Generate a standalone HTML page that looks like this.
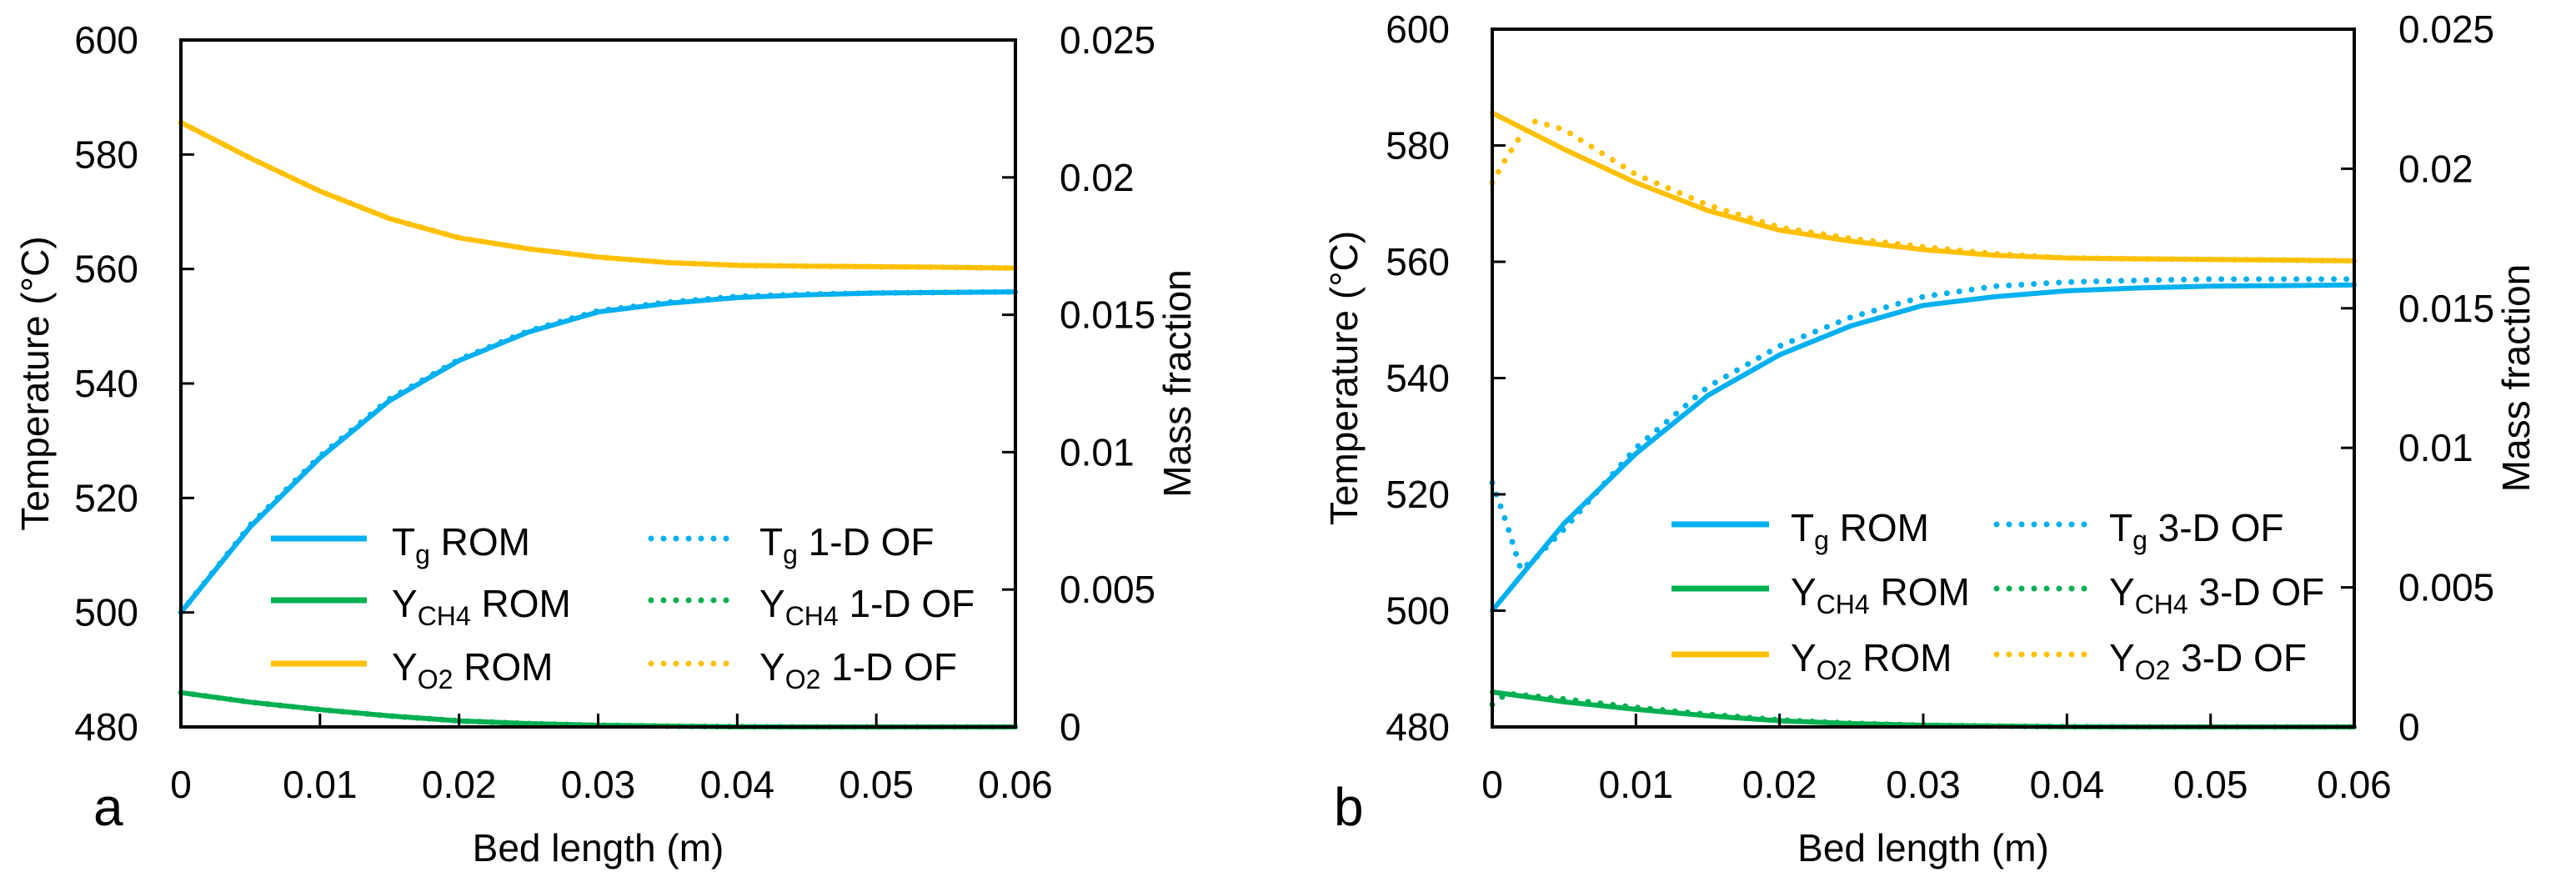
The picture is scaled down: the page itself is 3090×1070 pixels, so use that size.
<!DOCTYPE html>
<html><head><meta charset="utf-8"><style>
html,body{margin:0;padding:0;background:#fff;}
svg{display:block;font-family:"Liberation Sans",sans-serif;}
</style></head><body>
<svg id="fig" width="3090" height="1070" viewBox="0 0 3090 1070"></svg>
<script>
// ---- data ----
const xRom = [0,0.005,0.01,0.015,0.02,0.025,0.03,0.035,0.04,0.045,0.05,0.055,0.06];
const tgRom = [500,515,527,537,544,549,552.5,554,555,555.5,555.8,555.9,556];
const ych4Rom = [0.00125,0.0009,0.00063,0.0004,0.00022,0.00012,0.00006,0.00003,0.00001,0,0,0,0];
const yo2Rom = [0.0220,0.0207,0.0195,0.0185,0.0178,0.0174,0.0171,0.0169,0.0168,0.01677,0.01675,0.01673,0.0167];
const x1d = [0,0.005,0.01,0.015,0.02,0.025,0.03,0.035,0.04,0.045,0.05,0.055,0.06];
const tg1d = [500,515.3,527.3,537.3,544.2,549.2,552.7,554.2,555.2,555.6,555.8,555.9,556];
const ych41d = [0.00125,0.0009,0.00063,0.0004,0.00022,0.00012,0.00006,0.00003,0.00001,0,0,0,0];
const yo21d = [0.0220,0.0207,0.0195,0.0185,0.0178,0.0174,0.0171,0.0169,0.0168,0.01677,0.01675,0.01673,0.0167];
const x3d = [0,0.001,0.002,0.003,0.005,0.01,0.015,0.02,0.025,0.03,0.035,0.04,0.045,0.05,0.06];
const tg3d = [522,515,507,509,514,528,538.5,545.5,550.5,554,555.8,556.5,556.8,557,557];
const ych43d = [0.0008,0.0012,0.00115,0.0011,0.001,0.0007,0.00045,0.00025,0.00013,0.00006,0.00003,0.00001,0,0,0];
const yo23d = [0.0195,0.0204,0.0212,0.0217,0.0214,0.0198,0.0187,0.0179,0.0175,0.0172,0.01695,0.0168,0.01677,0.01675,0.0167];
const xTicks = [0,0.01,0.02,0.03,0.04,0.05,0.06];
const xTickLabels = ["0","0.01","0.02","0.03","0.04","0.05","0.06"];
const tTicks = [480,500,520,540,560,580,600];
const mTicks = [0,0.005,0.01,0.015,0.02,0.025];
const mTickLabels = ["0","0.005","0.01","0.015","0.02","0.025"];

const NS="http://www.w3.org/2000/svg";
const svg=document.getElementById('fig');
const C={b:"#00b0f0",g:"#00b050",o:"#ffc000"};
function el(tag,attrs,parent){const e=document.createElementNS(NS,tag);for(const k in attrs)e.setAttribute(k,attrs[k]);(parent||svg).appendChild(e);return e;}

function panel(P){
  const g=el('g',{});
  
  
  const sx=v=>P.x0+(v-0)/(0.06)*(P.x1-P.x0);
  const sT=v=>P.y1-(v-480)/120*(P.y1-P.y0);
  const sM=v=>P.y1-v/0.025*(P.y1-P.y0);
  function line(xs,ys,sy,col,dotted,nm){
    let d=xs.map((x,i)=>(i?'L':'M')+sx(x).toFixed(1)+' '+sy(ys[i]).toFixed(1)).join(' ');
    const p=el('path',{d:d,fill:'none',stroke:col,'stroke-width':dotted?7:6,'stroke-linecap':'round','stroke-linejoin':'round'},g);
    if(dotted)p.setAttribute('stroke-dasharray','0 15');
    
    
  }
  line(xRom,ych4Rom,sM,C.g,false,'ych4-rom-line');
  line(P.xo,P.ych4,sM,C.g,true,'ych4-of-line');
  line(xRom,yo2Rom,sM,C.o,false,'yo2-rom-line');
  line(P.xo,P.yo2,sM,C.o,true,'yo2-of-line');
  line(xRom,tgRom,sT,C.b,false,'tg-rom-line');
  line(P.xo,P.tg,sT,C.b,true,'tg-of-line');
  const fr=el('rect',{x:P.x0,y:P.y0,width:P.x1-P.x0,height:P.y1-P.y0,fill:'none',stroke:'#000','stroke-width':4},g);
  
  
  xTicks.forEach((t,i)=>{
    const x=sx(t);
    el('line',{x1:x,x2:x,y1:P.y1,y2:P.y1-16,stroke:'#000','stroke-width':3},g);
    const tx=el('text',{x:x,y:957,'font-size':46,'text-anchor':'middle',fill:'#000'},g);
    tx.textContent=xTickLabels[i];
    
    
  });
  tTicks.forEach(t=>{
    const y=sT(t);
    el('line',{x1:P.x0,x2:P.x0+16,y1:y,y2:y,stroke:'#000','stroke-width':3},g);
    const tx=el('text',{x:P.x0-51,y:y+16,'font-size':46,'text-anchor':'end',fill:'#000'},g);
    tx.textContent=String(t);
    
    
  });
  mTicks.forEach((t,i)=>{
    const y=sM(t);
    el('line',{x1:P.x1,x2:P.x1-16,y1:y,y2:y,stroke:'#000','stroke-width':3},g);
    const tx=el('text',{x:P.x1+53,y:y+16,'font-size':46,'text-anchor':'start',fill:'#000'},g);
    tx.textContent=mTickLabels[i];
    
    
  });
  const cy=(P.y0+P.y1)/2;
  const yt=el('text',{x:0,y:0,'font-size':46,'text-anchor':'middle',transform:`translate(${P.ytx},${cy}) rotate(-90)`},g);
  yt.textContent='Temperature (°C)';
  
  
  const yt2=el('text',{x:0,y:0,'font-size':46,'text-anchor':'middle',transform:`translate(${P.x1+210},${cy}) rotate(-90)`},g);
  yt2.textContent='Mass fraction';
  
  
  const xt=el('text',{x:(P.x0+P.x1)/2,y:1033,'font-size':46,'text-anchor':'middle'},g);
  xt.textContent='Bed length (m)';
  
  
  const lt=el('text',{x:P.lx,y:P.ly,'font-size':64},g);
  lt.textContent=P.letter;
  
  
  const L=P.leg;
  const rows=[[C.b,'T','g',' ROM'],[C.g,'Y','CH4',' ROM'],[C.o,'Y','O2',' ROM']];
  rows.forEach((r,i)=>{
    const y=L.rows[i];
    const ls=el('line',{x1:L.a0,x2:L.a1,y1:y,y2:y,stroke:r[0],'stroke-width':7},g);
    
    
    const t=el('text',{x:L.at,y:y+20,'font-size':46},g);
    t.innerHTML=`${r[1]}<tspan font-size="32" dy="10">${r[2]}</tspan><tspan dy="-10">${r[3]}</tspan>`;
    
    
    const ld=el('line',{x1:L.b0,x2:L.b1,y1:y,y2:y,stroke:r[0],'stroke-width':7,'stroke-linecap':'round','stroke-dasharray':'0 15'},g);
    
    
    const t2=el('text',{x:L.bt,y:y+20,'font-size':46},g);
    t2.innerHTML=`${r[1]}<tspan font-size="32" dy="10">${r[2]}</tspan><tspan dy="-10"> ${P.of}</tspan>`;
    
    
  });
}
panel({name:'panel-a',x0:217,x1:1218,y0:48,y1:872,xo:x1d,tg:tg1d,ych4:ych41d,yo2:yo21d,of:'1-D OF',ytx:58,lx:112,ly:990,letter:'a',
  leg:{rows:[646,720,796],a0:325,a1:440,at:470,b0:781,b1:876,bt:911}});
panel({name:'panel-b',x0:1790,x1:2824,y0:35,y1:872,xo:x3d,tg:tg3d,ych4:ych43d,yo2:yo23d,of:'3-D OF',ytx:1628,lx:1600,ly:990,letter:'b',
  leg:{rows:[629,706,785],a0:2005,a1:2122,at:2148,b0:2395,b1:2508,bt:2530}});
</script>
</body></html>
